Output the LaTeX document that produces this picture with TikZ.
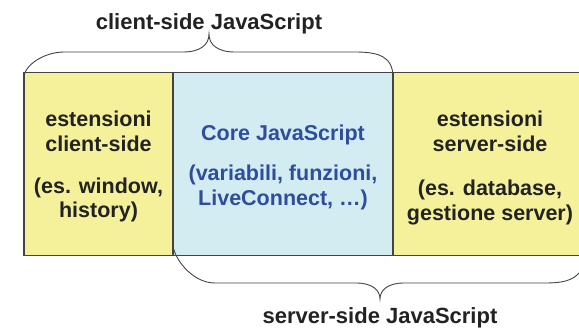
\documentclass[tikz,border=0pt]{standalone}
\usepackage{fontspec}
\setmainfont{Liberation Sans}
\definecolor{extfill}{HTML}{F5F19A}
\definecolor{corefill}{HTML}{D2ECF2}
\definecolor{coretext}{HTML}{2F4D9E}
\definecolor{darktext}{HTML}{222222}
\definecolor{edge}{HTML}{444444}
\begin{document}
\begin{tikzpicture}[x=1pt,y=-1pt,
  panel/.style={draw=edge, line width=1.1pt, inner sep=0pt, outer sep=0pt,
    minimum height=183pt, anchor=north west},
  label/.style={font=\fontsize{21.5}{25}\selectfont\bfseries, text=darktext,
    align=center, anchor=base, inner sep=0pt},
  corelabel/.style={label, text=coretext},
  title/.style={font=\fontsize{22}{26}\selectfont\bfseries, text=darktext,
    anchor=base, inner sep=0pt},
  bracket/.style={draw=edge, line width=0.9pt}]
\useasboundingbox (0,0) rectangle (579,329);

% the three layers
\node[panel, fill=extfill, minimum width=149pt] (client) at (24,72.7) {};
\node[panel, fill=corefill, minimum width=220pt] (core) at (173,72.7) {};
\node[panel, fill=extfill, minimum width=194pt] (server) at (393,72.7) {};

% texts inside the layers (base = baseline of the last line)
\node[label] (clienthead) at (98.5,151.7) {estensioni\\client-side};
\node[label, font=\fontsize{21.5}{24}\selectfont\bfseries] (clientex) at (98.5,217) {(es. window,\\history)};
\node[corelabel] (corehead) at (283,140) {Core JavaScript};
\node[corelabel] (coreex) at (283,205) {(variabili, funzioni,\\LiveConnect, …)};
\node[label] (serverhead) at (490,151.7) {estensioni\\server-side};
\node[label] (serverex) at (490,220) {(es. database,\\gestione server)};

% brace over client-side JavaScript
\coordinate (ta) at (client.north west);
\coordinate (tb) at (core.north east);
\draw[bracket] ([yshift=-4.7pt]ta) .. controls +(0,-12) and (44,52) .. (64,52)
  -- (183,52) .. controls (200,52) and (209,45) .. (209,34)
  .. controls (209,45) and (218,52) .. (235,52)
  -- (355,52) .. controls (378,52) and (393,56) .. ([yshift=-4.7pt]tb);
\node[title] (clientjs) at (209,29.6) {client-side JavaScript};

% brace under server-side JavaScript
\coordinate (ba) at (core.south west);
\coordinate (bb) at ([xshift=194pt]core.south east);
\draw[bracket] ([yshift=11.3pt]ba) .. controls +(0,12) and (191,283) .. (215,283)
  -- (356,283) .. controls (372,283) and (380,290) .. (380,299)
  .. controls (380,290) and (388,283) .. (404,283)
  -- (545,283) .. controls (569,283) and (587,279) .. ([yshift=11.3pt]bb);
\node[title] (serverjs) at (380,323) {server-side JavaScript};
\end{tikzpicture}
\end{document}
